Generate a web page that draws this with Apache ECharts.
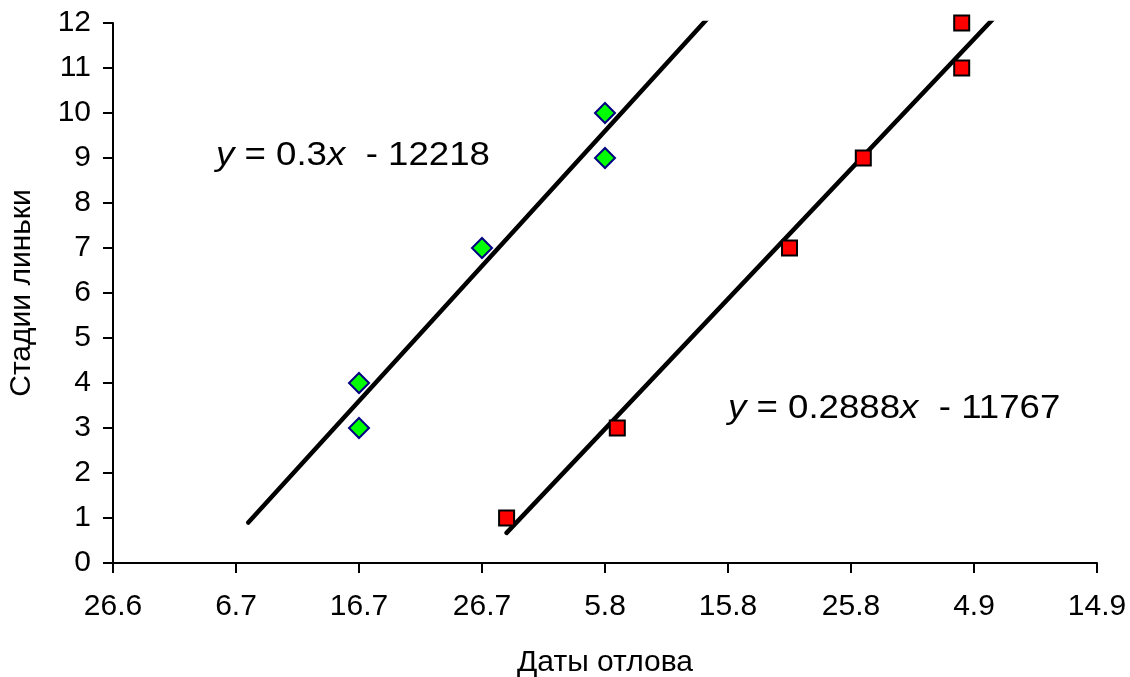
<!DOCTYPE html>
<html>
<head>
<meta charset="utf-8">
<script src="https://cdn.jsdelivr.net/npm/echarts@6/dist/echarts.min.js"></script>
<style>
html,body{margin:0;padding:0;background:#fff;}
#chart{width:1130px;height:677px;}
</style>
</head>
<body>
<div id="chart"></div>
<script>
// ---- data (dates as day.month, year 2011) ----
const greenDates  = ['16.7','16.7','26.7','5.8','5.8'];
const greenStages = [4, 3, 7, 10, 9];
const redDates    = ['28.7','6.8','20.8','26.8','3.9','3.9'];
const redStages   = [1, 3, 7, 9, 12, 11];
const equationTexts = ['{i|y} = 0.3{i|x}  - 12218', '{i|y} = 0.2888{i|x}  - 11767'];
const xTitle = 'Даты отлова';
const yTitle = 'Стадии линьки';
const YEAR = 2011;
// trendline forecast (days) backward / forward
const greenForecast = [9, 12];
const redForecast   = [0, 6];

function toSerial(s){
  const [d,m] = s.split('.').map(Number);
  return Date.UTC(YEAR, m-1, d)/86400000 + 25569;
}
function serialLabel(v){
  const dt = new Date((v - 25569)*86400000);
  return dt.getUTCDate() + '.' + (dt.getUTCMonth()+1);
}
function regress(xs, ys){
  const n = xs.length;
  const mx = xs.reduce((a,b)=>a+b,0)/n, my = ys.reduce((a,b)=>a+b,0)/n;
  let sxy=0, sxx=0;
  for(let i=0;i<n;i++){ sxy += (xs[i]-mx)*(ys[i]-my); sxx += (xs[i]-mx)**2; }
  const k = sxy/sxx; return {k, b: my - k*mx};
}
function trend(xs, ys, fc){
  const r = regress(xs, ys);
  const x0 = Math.min(...xs) - fc[0], x1 = Math.max(...xs) + fc[1];
  return [[x0, r.k*x0 + r.b], [x1, r.k*x1 + r.b]];
}

const gx = greenDates.map(toSerial), rx = redDates.map(toSerial);
const greenData = gx.map((x,i)=>[x, greenStages[i]]);
const redData = rx.map((x,i)=>[x, redStages[i]]);

const FONT = 'Liberation Sans';
const eqStyle = (t) => ({text: t, fontFamily: FONT, fontSize: 33, fill: '#000', verticalAlign: 'middle', align: 'left',
  rich: {i: {fontFamily: FONT, fontSize: 33, fontStyle: 'italic', fill: '#000'}}});
const chart = echarts.init(document.getElementById('chart'));
chart.setOption({
  animation: false,
  backgroundColor: '#fff',
  grid: {left: 113, top: 23, right: 33, bottom: 114, containLabel: false, outerBoundsMode: 'none'},
  xAxis: {
    type: 'value', min: 40720, max: 40800, interval: 10,
    name: xTitle, nameLocation: 'middle', nameGap: 85,
    nameTextStyle: {fontFamily: FONT, fontSize: 30, color: '#000'},
    axisLine: {lineStyle: {color: '#000', width: 2}},
    axisTick: {show: true, length: 10, lineStyle: {color: '#000', width: 2}},
    axisLabel: {fontFamily: FONT, fontSize: 30, color: '#000', margin: 29, formatter: serialLabel},
    splitLine: {show: false}
  },
  yAxis: {
    type: 'value', min: 0, max: 12, interval: 1,
    name: yTitle, nameLocation: 'middle', nameGap: 76,
    nameTextStyle: {fontFamily: FONT, fontSize: 30, color: '#000'},
    axisLine: {show: true, lineStyle: {color: '#000', width: 2}},
    axisTick: {show: true, length: 10, lineStyle: {color: '#000', width: 2}},
    axisLabel: {fontFamily: FONT, fontSize: 30, color: '#000', margin: 22},
    splitLine: {show: false}
  },
  series: [
    {type: 'line', data: trend(gx, greenStages, greenForecast), symbol: 'none', clip: true,
     lineStyle: {color: '#000', width: 4.5, cap: 'round'}, silent: true, z: 2},
    {type: 'line', data: trend(rx, redStages, redForecast), symbol: 'none', clip: true,
     lineStyle: {color: '#000', width: 4.5, cap: 'round'}, silent: true, z: 2},
    {type: 'scatter', data: greenData, symbol: 'diamond', symbolSize: 20,
     itemStyle: {color: '#00ff00', borderColor: '#000080', borderWidth: 2, opacity: 1}, z: 3},
    {type: 'scatter', data: redData, symbol: 'rect', symbolSize: 15,
     itemStyle: {color: '#ff0000', borderColor: '#000', borderWidth: 2, opacity: 1}, z: 3}
  ],
  graphic: [
    {type: 'text', x: 216, y: 156, scaleX: 1.11, z: 10, style: eqStyle(equationTexts[0])},
    {type: 'text', x: 728, y: 409, scaleX: 1.11, z: 10, style: eqStyle(equationTexts[1])}
  ]
});
</script>
</body>
</html>
